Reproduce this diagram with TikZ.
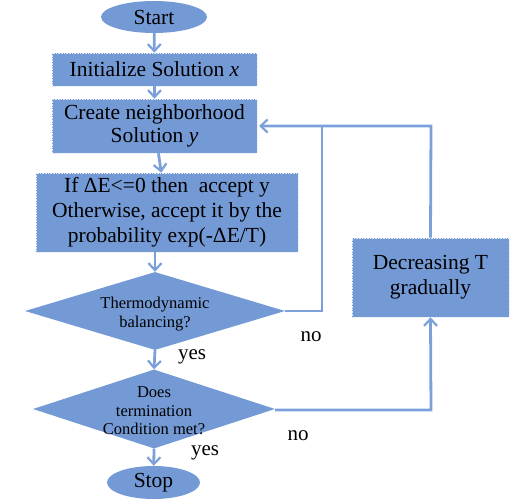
\documentclass[tikz,border=0pt]{standalone}
\usepackage{fontspec}
\setmainfont{Liberation Serif}
\usetikzlibrary{shapes.geometric,arrows.meta}
\definecolor{fc}{RGB}{116,154,214}
\definecolor{lc}{RGB}{124,160,218}
\tikzset{
  base/.style={fill=fc,inner sep=1pt,align=center,text=black},
  term/.style={base,ellipse,font=\fontsize{21.5}{23}\selectfont},
  proc/.style={base,rectangle,draw=white!80!fc,densely dotted,line width=0.6pt,font=\fontsize{21.5}{24}\selectfont},
  dec/.style={base,diamond},
  dect/.style={font=\fontsize{16.5}{18.5}\selectfont,align=center,inner sep=0pt},
  lab/.style={font=\fontsize{21}{23}\selectfont},
  conn/.style={draw=lc,line width=2.8pt,-{Straight Barb[length=7pt,width=13pt,line width=2.2pt]}},
  line/.style={draw=lc,line width=2.8pt}
}
\begin{document}
\begin{tikzpicture}[x=1pt,y=-1pt]
\useasboundingbox (0,0) rectangle (517,502);
\node[term,minimum width=106pt,minimum height=32pt] (start) at (154,17) {Start};
\node[proc,minimum width=205pt,minimum height=33pt] (init) at (154.5,69.5) {Initialize Solution \textit{x}};
\node[proc,minimum width=205pt,minimum height=54pt,font=\fontsize{21.5}{22.5}\selectfont] (create) at (154.5,126) {Create neighborhood\\Solution \textit{y}};
\node[proc,minimum width=262pt,minimum height=79pt,font=\fontsize{21.5}{25}\selectfont] (accept) at (167,212.5) {If ΔE<=0 then\ \ accept y\\Otherwise, accept it by the\\probability exp(-ΔE/T)};
\node[dec,minimum width=260pt,minimum height=78pt] (thermo) at (155,311) {};
\node[dect] (thermot) at (155,314) {Thermodynamic\\balancing?};
\node[dec,minimum width=242pt,minimum height=79pt] (term) at (154,409) {};
\node[dect] (termt) at (154,411) {Does\\termination\\Condition met?};
\node[term,minimum width=93pt,minimum height=33pt] (stop) at (153.5,482.5) {Stop};
\node[proc,minimum width=157pt,minimum height=79pt,font=\fontsize{21.5}{25}\selectfont] (decr) at (430.5,277.5) {Decreasing T\\gradually};
\coordinate (thr) at (285,311);
\coordinate (termr) at (275,410);
\coordinate (c1) at (322,311);
\coordinate (c2) at (322,126);
\coordinate (c3) at (431,126);
\coordinate (c4) at (431,410);
\coordinate (ctip) at (259,126);
\draw[conn] (start) -- (init);
\draw[conn] (init) -- (create);
\draw[conn] (create) -- (accept);
\draw[conn] (accept.south -| thermo) -- (thermo.north);
\draw[conn] (thermo.south) -- (term.north);
\draw[conn] (term.south) -- (stop);
\draw[line] (thr) -- (c1) -- (c2);
\draw[conn] (decr.north) -- (c3) -- (ctip);
\draw[conn] (termr) -- (c4) -- (decr.south);
\node[lab] (no1) at (311,337) {no};
\node[lab] (no2) at (298,436) {no};
\node[lab] (yes1) at (192,357) {yes};
\node[lab] (yes2) at (205,453) {yes};
\end{tikzpicture}
\end{document}
